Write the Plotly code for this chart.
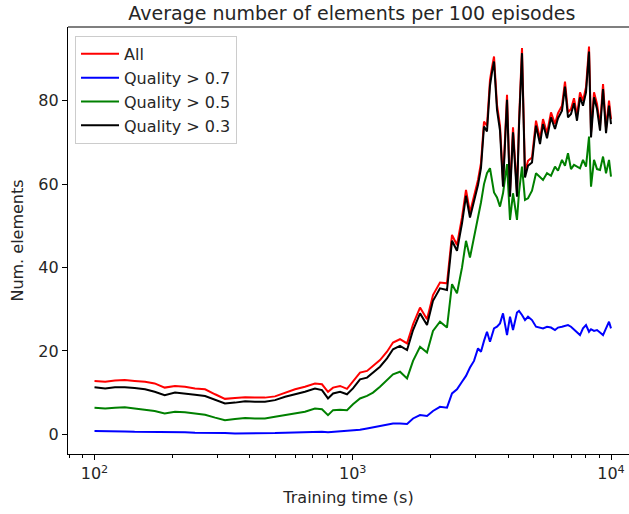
import plotly.graph_objects as go

# Training time (s)
time_s = [100, 110, 120, 131, 143, 157, 171, 187, 205, 224, 245, 268, 293, 320, 350, 383, 418, 457,
          500, 547, 598, 653, 714, 760, 802, 839, 893, 950, 1002, 1067, 1136, 1198, 1275, 1357, 1432,
          1524, 1623, 1712, 1822, 1939, 2045, 2177, 2317, 2423, 2533, 2649, 2745, 2844, 2948, 3055,
          3137, 3223, 3310, 3400, 3461, 3524, 3619, 3717, 3818, 3957, 4064, 4174, 4325, 4403, 4522,
          4645, 4771, 4944, 5124, 5310, 5454, 5652, 5857, 6069, 6234, 6460, 6635, 6815, 7000, 7190,
          7385, 7586, 7791, 8003, 8220, 8368, 8595, 8828, 9068, 9314, 9566, 9825, 10000]

all_vals = [12.8, 12.6, 12.9, 13.0, 12.8, 12.6, 12.2, 11.2, 11.6, 11.4, 11.0, 10.8, 9.6, 8.5, 8.7, 8.9,
            8.8, 8.8, 9.1, 10.0, 10.8, 11.4, 12.2, 12.0, 10.2, 11.2, 11.6, 10.9, 12.6, 14.8, 15.2, 16.4,
            17.8, 19.8, 22.0, 22.8, 21.8, 26.4, 30.4, 27.6, 33.4, 36.4, 36.2, 47.8, 45.4, 52.0, 58.6,
            53.2, 57.0, 61.0, 65.0, 75.0, 74.0, 85.0, 88.0, 90.6, 79.0, 74.0, 60.6, 81.4, 58.2, 73.6,
            58.0, 75.0, 92.6, 62.8, 65.6, 66.4, 75.2, 70.8, 75.6, 72.2, 77.2, 74.4, 77.0, 78.8, 84.6,
            77.2, 78.0, 80.6, 76.4, 82.0, 80.0, 83.2, 93.0, 72.4, 82.0, 79.2, 74.0, 84.0, 73.4, 80.0, 75.6]

q07_vals = [0.8, 0.8, 0.7, 0.7, 0.6, 0.6, 0.5, 0.5, 0.5, 0.5, 0.4, 0.4, 0.3, 0.3, 0.2, 0.2, 0.2, 0.3,
            0.3, 0.4, 0.5, 0.5, 0.6, 0.6, 0.5, 0.6, 0.6, 0.8, 0.9, 1.1, 1.4, 1.7, 2.0, 2.4, 2.6, 2.6,
            2.5, 3.8, 4.6, 4.4, 5.6, 6.6, 6.4, 9.8, 10.8, 12.6, 14.0, 16.0, 17.6, 20.6, 19.8, 22.4,
            24.6, 22.2, 23.6, 25.4, 25.8, 26.6, 29.0, 23.8, 28.2, 25.0, 29.2, 29.6, 28.6, 27.4, 28.2,
            27.4, 25.8, 25.6, 25.4, 25.8, 25.6, 25.0, 25.6, 25.8, 26.0, 26.2, 25.8, 25.2, 24.6, 23.8,
            25.4, 26.2, 24.6, 25.2, 24.8, 25.0, 24.4, 23.8, 25.4, 27.0, 25.4]

q05_vals = [6.4, 6.2, 6.4, 6.5, 6.2, 5.9, 5.6, 5.0, 5.4, 5.3, 5.0, 4.7, 4.0, 3.4, 3.7, 3.9, 3.8, 3.8,
            4.2, 4.6, 5.0, 5.4, 6.2, 6.0, 4.6, 5.8, 5.9, 5.8, 7.2, 8.6, 9.2, 10.0, 11.4, 13.0, 14.4,
            15.0, 13.4, 17.6, 21.0, 19.6, 24.8, 27.0, 25.6, 36.0, 33.8, 40.0, 46.4, 42.4, 47.0, 51.8,
            55.6, 60.0, 62.6, 63.8, 60.4, 58.0, 56.8, 54.6, 57.8, 64.8, 51.4, 57.8, 51.4, 58.0, 64.2,
            56.2, 56.6, 58.4, 62.6, 61.8, 61.0, 62.6, 62.0, 64.2, 63.2, 65.8, 64.4, 67.4, 63.6, 64.6,
            64.2, 63.8, 65.8, 64.2, 71.4, 59.4, 65.8, 63.6, 63.4, 66.6, 62.6, 65.8, 61.8]

q03_vals = [11.3, 11.0, 11.3, 11.3, 11.1, 10.8, 10.2, 9.4, 10.0, 9.8, 9.5, 9.2, 8.2, 7.4, 7.6, 7.9,
            7.8, 7.8, 8.2, 9.0, 9.6, 10.2, 11.0, 10.6, 8.6, 9.8, 10.2, 9.6, 11.0, 13.2, 13.6, 14.8,
            16.2, 18.2, 20.4, 21.2, 20.2, 25.0, 29.0, 26.2, 32.0, 35.0, 34.6, 46.4, 44.0, 50.6, 57.2,
            52.0, 55.8, 59.8, 63.8, 73.8, 72.6, 83.6, 86.8, 89.4, 77.8, 72.8, 59.4, 80.2, 57.0, 72.4,
            57.0, 73.8, 91.4, 61.6, 64.4, 65.2, 74.0, 69.6, 74.4, 71.0, 76.0, 73.2, 75.8, 77.6, 83.4,
            76.0, 76.8, 79.4, 75.2, 80.8, 78.8, 82.0, 91.8, 71.2, 80.8, 78.0, 72.8, 82.8, 72.2, 78.8, 74.4]

series_names = ["All", "Quality > 0.7", "Quality > 0.5", "Quality > 0.3"]
series_colors = ["#ff0000", "#0000ff", "#008000", "#000000"]

x_tick_vals = [100, 1000, 10000]
x_tick_text = ["10<sup>2</sup>", "10<sup>3</sup>", "10<sup>4</sup>"]
x_minor_vals = [80, 90, 200, 300, 400, 500, 600, 700, 800, 900,
                2000, 3000, 4000, 5000, 6000, 7000, 8000, 9000]
y_tick_vals = [0, 20, 40, 60, 80]

FONT = "DejaVu Sans"
TXT = "#262626"

fig = go.Figure()
for i, (name, vals, col) in enumerate(zip(series_names, [all_vals, q07_vals, q05_vals, q03_vals], series_colors)):
    fig.add_trace(go.Scatter(x=time_s, y=vals, mode="lines", name=name,
                             line=dict(color=col, width=2), legendgroup=f"g{i}"))

fig.update_layout(
    width=629, height=514,
    margin=dict(l=68, r=0, t=27, b=60),
    paper_bgcolor="white", plot_bgcolor="white",
    font=dict(family=FONT, size=16, color=TXT),
    title=dict(text="Average number of elements per 100 episodes", x=0.506, xref="paper",
               xanchor="center", y=0.975, yref="container", yanchor="middle",
               font=dict(family=FONT, size=19, color=TXT)),
    showlegend=True,
    legend=dict(x=0.0125, y=0.979, xanchor="left", yanchor="top",
                bgcolor="rgba(255,255,255,0.8)", bordercolor="#cccccc", borderwidth=1,
                font=dict(family=FONT, size=16, color=TXT), tracegroupgap=0,
                itemwidth=38),
    xaxis=dict(type="log", range=[1.8974, 4.0697], showgrid=False, zeroline=False,
               showline=True, linecolor="black", linewidth=1.2, mirror=False,
               ticks="outside", ticklen=5, tickwidth=1, tickcolor="black",
               tickvals=x_tick_vals, ticktext=x_tick_text, tickfont=dict(size=16),
               minor=dict(tickvals=x_minor_vals, ticks="outside", ticklen=3, tickcolor="black", tickwidth=1),
               title=dict(text="Training time (s)", font=dict(family=FONT, size=16), standoff=9)),
    yaxis=dict(range=[-4.72, 97.67], showgrid=False, zeroline=False,
               showline=True, linecolor="black", linewidth=1.2,
               ticks="outside", ticklen=5, tickwidth=1, tickcolor="black",
               tickvals=y_tick_vals, tickfont=dict(size=16),
               title=dict(text="Num. elements", font=dict(family=FONT, size=16), standoff=10)),
)
# top frame line
fig.add_shape(type="line", xref="paper", yref="paper", x0=0, x1=1, y0=1, y1=1,
              line=dict(color="black", width=1.2))

fig.write_html("out.html")
